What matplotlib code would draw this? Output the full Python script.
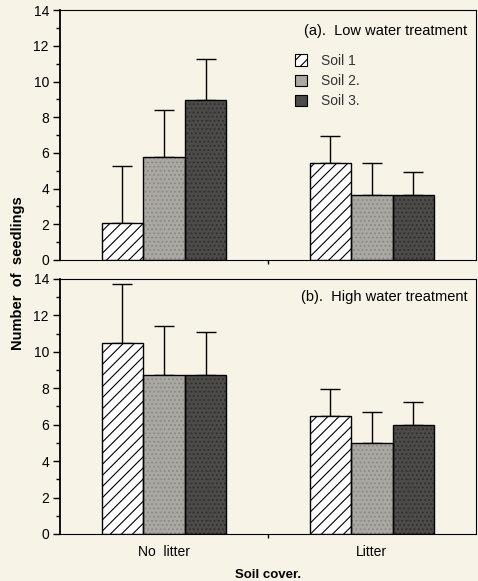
import matplotlib.pyplot as plt
import matplotlib.patches as mpatches
import numpy as np

plt.rcParams['font.family'] = ['Liberation Sans', 'DejaVu Sans']
plt.rcParams['hatch.linewidth'] = 0.8

covers = ['No  litter', 'Litter']
soils = ['Soil 1', 'Soil 2.', 'Soil 3.']

# means per soil, [no litter, litter]
low_mean = [[2.05, 5.45], [5.75, 3.64], [8.98, 3.64]]
low_err = [[3.23, 1.48], [2.67, 1.79], [2.28, 1.31]]
high_mean = [[10.5, 6.45], [8.7, 4.98], [8.74, 5.99]]
high_err = [[3.2, 1.52], [2.73, 1.74], [2.36, 1.26]]

titles = ['(a).  Low water treatment', '(b).  High water treatment']

faces = ['white', '#a9a8a3', '#4c4b49']
hatches = ['///', '....', '....']
hatch_cols = ['black', '#8a8985', '#2e2e2d']
bg = '#f8f3e7'

fig = plt.figure(figsize=(4.78, 5.81), dpi=100, facecolor=bg)
ax_top = fig.add_axes([0.1255, 0.5525, 0.870, 0.430])
ax_bot = fig.add_axes([0.1255, 0.0809, 0.870, 0.439])

x = np.arange(len(covers))
w = 0.2

for ax, means, errs, title, ty in [(ax_top, low_mean, low_err, titles[0], 0.915),
                                   (ax_bot, high_mean, high_err, titles[1], 0.93)]:
    ax.set_facecolor(bg)
    for i in range(3):
        pos = x + (i - 1) * w
        ax.bar(pos, means[i], width=w, color=faces[i], edgecolor=hatch_cols[i],
               hatch=hatches[i], linewidth=0, zorder=2)
        ax.bar(pos, means[i], width=w, color='none', edgecolor='black',
               linewidth=1.0, zorder=3)
        ax.errorbar(pos, means[i], yerr=[np.zeros(2), errs[i]], fmt='none',
                    ecolor='black', elinewidth=1.0, capsize=7.5, capthick=1.0, zorder=1)
    ax.set_xlim(-0.5, 1.5)
    ax.set_ylim(0, 14)
    ax.set_yticks(np.arange(0, 15, 2))
    ax.set_yticks(np.arange(1, 14, 2), minor=True)
    ax.tick_params(axis='y', which='major', length=5, width=1, labelsize=10, pad=3)
    ax.tick_params(axis='y', which='minor', length=3, width=1)
    ax.set_xticks([0.5])
    ax.set_xticklabels([''])
    ax.tick_params(axis='x', length=3, width=1)
    for s in ['top', 'right', 'bottom']:
        ax.spines[s].set_linewidth(0.8)
    ax.spines['left'].set_linewidth(1.3)
    ax.text(0.98, ty, title, transform=ax.transAxes, ha='right', va='center',
            fontsize=10.5, fontweight='medium')

# category labels on bottom panel
for xi, lab in zip(x, covers):
    ax_bot.text(xi, -1.0, lab, ha='center', va='center', fontsize=10)

ax_bot.text(0.5, -0.16, 'Soil cover.', transform=ax_bot.transAxes, ha='center',
            va='center', fontsize=9.5, fontweight='bold')
fig.text(0.037, 0.53, 'Number  of  seedlings', rotation=90, ha='center', va='center',
         fontsize=10.5, fontweight='bold')

handles = [mpatches.Patch(facecolor=faces[i], edgecolor='black', hatch=hatches[i] if i == 0 else None,
                          linewidth=0.8) for i in range(3)]
ax_top.legend(handles, soils, loc='upper left', bbox_to_anchor=(0.535, 0.875), frameon=False,
              fontsize=10, handlelength=0.9, handleheight=0.9, handletextpad=1.0,
              labelspacing=0.45, labelcolor='#333333')

fig.savefig('out.png', dpi=100, facecolor=bg)
